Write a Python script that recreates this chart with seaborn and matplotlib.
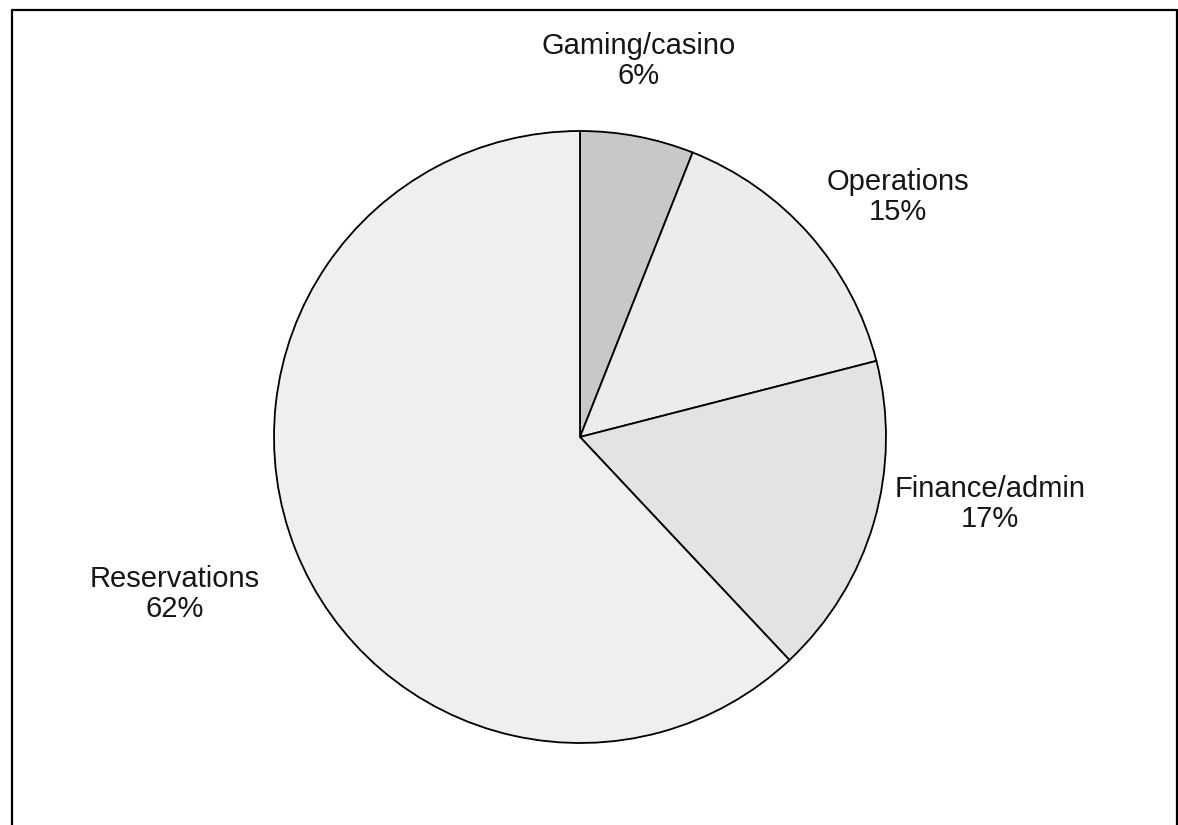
import matplotlib
matplotlib.use("Agg")
import matplotlib.pyplot as plt
from matplotlib.lines import Line2D
import seaborn as sns

# Share of staff by department
departments = ["Gaming/casino", "Operations", "Finance/admin", "Reservations"]
shares = [6, 15, 17, 62]
wedge_colors = ["#c8c8c8", "#ececec", "#e3e3e3", "#efefef"]

sns.set_theme(style="white")
plt.rcParams["font.family"] = ["Liberation Sans", "DejaVu Sans"]

W, H, DPI = 1178, 825, 100
fig = plt.figure(figsize=(W / DPI, H / DPI), dpi=DPI, facecolor="white")
ax = fig.add_axes([0, 0, 1, 1])

wedges, _ = ax.pie(
    shares,
    colors=wedge_colors,
    startangle=90,
    counterclock=False,
    radius=1.0,
    wedgeprops=dict(edgecolor="black", linewidth=1.3),
)

# pie centre and radius in pixels; limits are set after pie() since it resets them
cx, cy, r = 580, 437, 306
ax.set_xlim(-cx / r, (W - cx) / r)
ax.set_ylim(-(H - cy) / r, cy / r)
ax.set_aspect("equal", adjustable="datalim")
ax.axis("off")

# label anchor positions (pixel coordinates of each label centre)
label_px = [(639, 61), (898, 197), (990, 504), (175, 594)]
for name, val, (px, py) in zip(departments, shares, label_px):
    ax.text((px - cx) / r, (cy - py) / r, f"{name}\n{val}%",
            ha="center", va="center", fontsize=21, color="#161616",
            linespacing=1.12)

# outer frame (left, top, right)
lw = 1.6
fig.add_artist(Line2D([11.5 / W, 11.5 / W], [0, 1 - 10 / H], transform=fig.transFigure,
                      color="black", lw=lw))
fig.add_artist(Line2D([11.5 / W, 1176.5 / W], [1 - 10 / H, 1 - 10 / H], transform=fig.transFigure,
                      color="black", lw=lw))
fig.add_artist(Line2D([1176.5 / W, 1176.5 / W], [0, 1 - 10 / H], transform=fig.transFigure,
                      color="black", lw=lw))

fig.savefig("out.png", dpi=DPI, facecolor="white")
